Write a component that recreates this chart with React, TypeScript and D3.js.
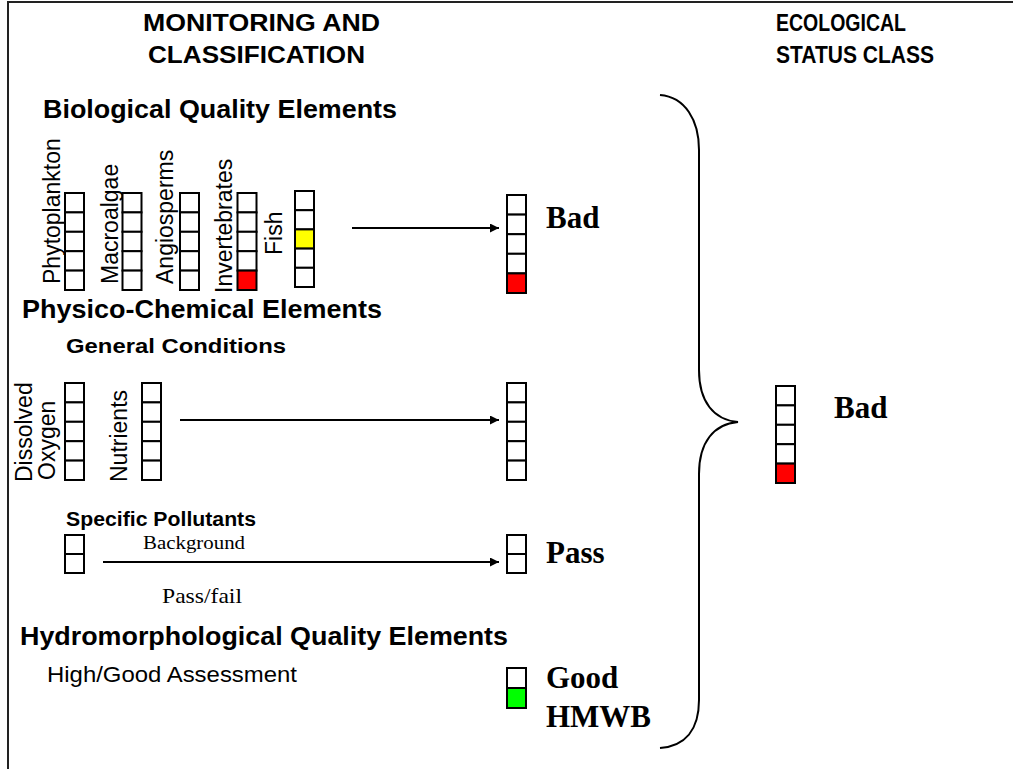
import React from "react";
import * as d3 from "d3";

// status classes, top cell to bottom cell
const classes = ["High", "Good", "Moderate", "Poor", "Bad"];
const classColours = ["#0000ff", "#00ff00", "#ffff00", "#ff9900", "#ff0000"];

const bioElements = ["Phytoplankton", "Macroalgae", "Angiosperms", "Invertebrates", "Fish"];
const bioStatus = [null, null, null, "Bad", "Moderate"];
const bioResult = "Bad";

const generalElements = ["Dissolved Oxygen", "Nutrients"];
const generalStatus = [null, null];
const generalResult = null;

const pollutantCells = ["Pass", "Fail"];
const pollutantResult = "Pass";

const hydroCells = ["High", "Good"];
const hydroResult = "Good";
const hydroLabel = ["Good", "HMWB"];

const overallResult = "Bad";

const W = 1013, H = 769;
const sans = "'Liberation Sans', Arial, sans-serif";
const serif = "'Liberation Serif', 'Times New Roman', serif";
const colour = d3.scaleOrdinal<string, string>().domain(classes).range(classColours);

const Ladder = ({ x, y0, y1, cells, value }: { x: number; y0: number; y1: number; cells: string[]; value: string | null }) => {
  const band = d3.scaleBand().domain(cells).range([y0, y1]);
  return (
    <g>
      {cells.map(c => (
        <rect key={c} x={x} y={band(c)} width={19} height={band.bandwidth()}
          fill={c === value ? colour(c) : "#fff"} stroke="#000" strokeWidth={2} />
      ))}
    </g>
  );
};

const T = ({ x, y, size, w, bold, children, font = sans }: any) => (
  <text x={x} y={y} fontSize={size} fontFamily={font} fontWeight={bold ? "bold" : "normal"}
    textLength={w} lengthAdjust={w ? "spacingAndGlyphs" : undefined}>{children}</text>
);

const VLabel = ({ x, y, children }: any) => (
  <text transform={`translate(${x},${y}) rotate(-90)`} fontSize={23} fontFamily={sans}>{children}</text>
);

export default function App() {
  const bx = d3.scalePoint().domain(bioElements).range([65, 295]);
  const bioLabelDx = [-5, -5, -7, -6, -13];
  const bioLabelBottom = [284, 284, 284, 293, 255];
  const gx = d3.scalePoint().domain(generalElements).range([65, 142]);
  const rx = 507;

  const brace = d3.path();
  brace.moveTo(660, 95);
  brace.bezierCurveTo(685, 97, 699, 120, 699, 150);
  brace.lineTo(699, 370);
  brace.bezierCurveTo(699, 402, 714, 420, 738, 422);
  brace.bezierCurveTo(714, 424, 699, 442, 699, 474);
  brace.lineTo(699, 700);
  brace.bezierCurveTo(699, 730, 685, 746, 660, 748);

  const arrows = [
    { x0: 352, y: 228 },
    { x0: 180, y: 420 },
    { x0: 103, y: 562 },
  ];

  return (
    <div style={{ position: "absolute", left: 0, top: 0 }}>
      <svg width={W} height={H} style={{ display: "block", background: "#fff" }}>
        <defs>
          <marker id="head" viewBox="0 0 10 10" refX={10} refY={5} markerWidth={7} markerHeight={4.5}
            markerUnits="strokeWidth" orient="auto">
            <path d="M0,0L10,5L0,10Z" fill="#000" />
          </marker>
        </defs>
        <path d={`M8,${H}V2H${W}`} fill="none" stroke="#222" strokeWidth={2} />

        <T x={143} y={31} size={24} w={237} bold>MONITORING AND</T>
        <T x={148} y={63} size={24} w={217} bold>CLASSIFICATION</T>
        <T x={776} y={31} size={23} w={130} bold>ECOLOGICAL</T>
        <T x={776} y={63} size={23} w={158} bold>STATUS CLASS</T>

        <T x={43} y={118} size={25} w={354} bold>Biological Quality Elements</T>
        {bioElements.map((e, i) => (
          <g key={e}>
            <VLabel x={bx(e)! + bioLabelDx[i]} y={bioLabelBottom[i]}>{e}</VLabel>
            <Ladder x={bx(e)!} y0={i === 4 ? 191 : 193} y1={i === 4 ? 287 : 290} cells={classes} value={bioStatus[i]} />
          </g>
        ))}
        <Ladder x={rx} y0={195} y1={293} cells={classes} value={bioResult} />
        <T x={546} y={228} size={31} bold font={serif}>{bioResult}</T>

        <T x={22} y={318} size={25} w={360} bold>Physico-Chemical Elements</T>
        <T x={66} y={353} size={20} w={220} bold>General Conditions</T>
        <VLabel x={32} y={482}>Dissolved</VLabel>
        <VLabel x={55} y={480}>Oxygen</VLabel>
        <VLabel x={127} y={482}>Nutrients</VLabel>
        {generalElements.map((e, i) => (
          <Ladder key={e} x={gx(e)!} y0={383} y1={480} cells={classes} value={generalStatus[i]} />
        ))}
        <Ladder x={rx} y0={383} y1={480} cells={classes} value={generalResult} />

        <T x={66} y={526} size={20} w={190} bold>Specific Pollutants</T>
        <Ladder x={65} y0={535} y1={573} cells={pollutantCells} value={null} />
        <T x={143} y={549} size={18} w={102} font={serif}>Background</T>
        <T x={162} y={603} size={22} w={80} font={serif}>Pass/fail</T>
        <Ladder x={rx} y0={535} y1={573} cells={pollutantCells} value={null} />
        <T x={546} y={563} size={31} bold font={serif}>{pollutantResult}</T>

        <T x={20} y={645} size={25} w={488} bold>Hydromorphological Quality Elements</T>
        <T x={47} y={682} size={22} w={250}>High/Good Assessment</T>
        <Ladder x={rx} y0={668} y1={708} cells={hydroCells} value={hydroResult} />
        <T x={546} y={688} size={31} bold font={serif}>{hydroLabel[0]}</T>
        <T x={546} y={727} size={31} bold font={serif}>{hydroLabel[1]}</T>

        {arrows.map(a => (
          <line key={a.y} x1={a.x0} x2={499} y1={a.y} y2={a.y} stroke="#000" strokeWidth={2} markerEnd="url(#head)" />
        ))}

        <path d={brace.toString()} fill="none" stroke="#000" strokeWidth={2} />
        <Ladder x={776} y0={386} y1={483} cells={classes} value={overallResult} />
        <T x={834} y={418} size={31} bold font={serif}>{overallResult}</T>
      </svg>
    </div>
  );
}
